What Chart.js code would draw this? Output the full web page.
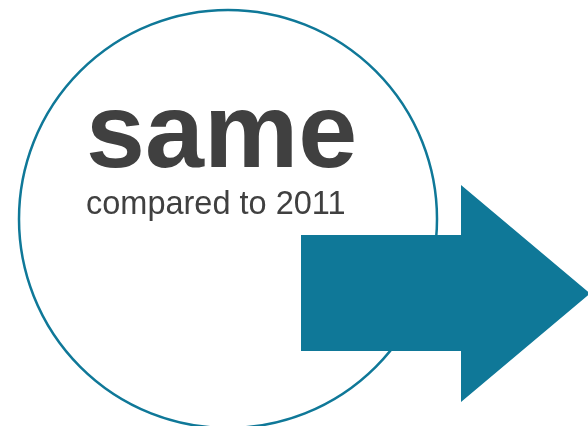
<!DOCTYPE html>
<html>
<head>
<meta charset="utf-8">
<script src="https://cdn.jsdelivr.net/npm/chart.js@4/dist/chart.umd.min.js"></script>
<style>
  html, body { margin: 0; padding: 0; background: #fff; }
  #grafica { display: block; }
</style>
</head>
<body>
<canvas id="grafica" width="588" height="426"></canvas>
<script>
// Textos del infográfico
var textoPrincipal = 'same';
var textoSecundario = 'compared to 2011';

// Círculo (centro y radio en unidades de la escala)
var circuloX = [228];
var circuloY = [219];
var circuloR = [209];

// Contorno de la flecha (x, y)
var flechaX = [301, 461, 461, 590, 461, 461, 301, 301];
var flechaY = [235, 235, 185, 293.5, 402, 351, 351, 235];

// Posición de los textos
var textosX = [86, 86];
var textosY = [167, 214];

var azul = '#0f7898';
var gris = '#404040';

var puntosFlecha = flechaX.map(function(x, i) { return { x: x, y: flechaY[i] }; });
var puntosCirculo = circuloX.map(function(x, i) { return { x: x, y: circuloY[i], r: circuloR[i] }; });

// Plugin para escribir los textos usando las escalas
var pluginTextos = {
  id: 'textos',
  afterDatasetsDraw: function(chart) {
    var ctx = chart.ctx;
    var sx = chart.scales.x, sy = chart.scales.y;
    ctx.save();
    ctx.fillStyle = gris;
    ctx.textBaseline = 'alphabetic';
    ctx.textAlign = 'left';
    ctx.font = 'bold 106px "Liberation Sans", Arial, sans-serif';
    ctx.fillText(textoPrincipal, sx.getPixelForValue(textosX[0]), sy.getPixelForValue(textosY[0]));
    ctx.font = '32.5px "Liberation Sans", Arial, sans-serif';
    ctx.fillText(textoSecundario, sx.getPixelForValue(textosX[1]), sy.getPixelForValue(textosY[1]));
    ctx.restore();
  }
};

var ctx = document.getElementById('grafica').getContext('2d');
var miChart = new Chart(ctx, {
  type: 'scatter',
  data: {
    datasets: [
      {
        // Flecha
        label: 'flecha',
        data: puntosFlecha,
        showLine: true,
        fill: 'shape',
        backgroundColor: azul,
        borderColor: azul,
        borderWidth: 0,
        pointRadius: 0,
        tension: 0,
        clip: false,
        order: 0
      },
      {
        // Círculo
        type: 'bubble',
        label: 'circulo',
        data: puntosCirculo,
        backgroundColor: 'rgba(0,0,0,0)',
        borderColor: azul,
        borderWidth: 2.5,
        clip: false,
        order: 1
      }
    ]
  },
  options: {
    responsive: false,
    animation: false,
    events: [],
    layout: { padding: 0, autoPadding: false },
    plugins: {
      legend: { display: false },
      tooltip: { enabled: false },
      title: { display: false }
    },
    scales: {
      x: { type: 'linear', min: 0, max: 588, display: false },
      y: { type: 'linear', min: 0, max: 426, reverse: true, display: false }
    }
  },
  plugins: [pluginTextos]
});
</script>
</body>
</html>
